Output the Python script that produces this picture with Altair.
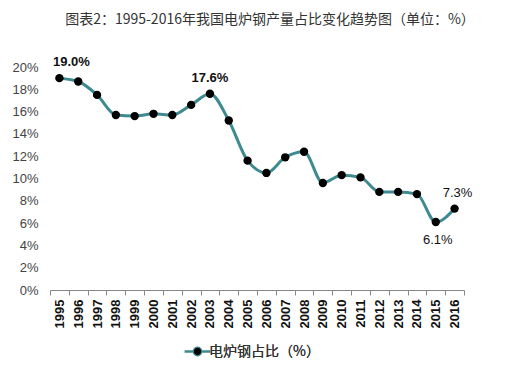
import altair as alt
import pandas as pd

years = [str(y) for y in range(1995, 2017)]
values = [19.0, 18.7, 17.5, 15.7, 15.6, 15.8, 15.7, 16.6, 17.6, 15.2, 11.6,
          10.5, 11.9, 12.4, 9.6, 10.3, 10.1, 8.8, 8.8, 8.6, 6.1, 7.3]
series_name = "电炉钢占比（%）"

label_years_above_bold = ["1995", "2003"]
label_years_above = ["2016"]
label_years_below = ["2015"]

df = pd.DataFrame({"year": years, "value": values, "series": series_name})
df["label"] = df["value"].map(lambda v: f"{v:.1f}%")

x = alt.X("year:N", title=None, sort=years,
          scale=alt.Scale(paddingInner=0, paddingOuter=0),
          axis=alt.Axis(labelAngle=270, labelFontWeight="bold", labelFontSize=13,
                        labelColor="#111", labelFont="Liberation Sans",
                        tickBand="extent", tickColor="#888", domainColor="#888",
                        tickSize=5, labelPadding=4, labelAlign="right",
                        labelBaseline="middle"))
y = alt.Y("value:Q", title=None,
          scale=alt.Scale(domain=[0, 20]),
          axis=alt.Axis(values=list(range(0, 21, 2)), labelExpr="datum.value + '%'",
                        grid=False, domain=False, ticks=False, labelPadding=12,
                        labelFontSize=13, labelColor="#444",
                        labelFont="Liberation Sans"))

legend = alt.Legend(title=None, orient="none", legendX=138, legendY=275,
                    symbolType="M-1.6,0H-0.45M0.45,0H1.6M-0.45,0A0.45,0.45,0,1,1,0.45,0A0.45,0.45,0,1,1,-0.45,0Z",
                    symbolSize=260, symbolStrokeWidth=2.5, labelOffset=2,
                    labelFontSize=14, labelColor="#333", labelFontWeight="normal",
                    labelFont="Noto Sans CJK SC")

base = alt.Chart(df)

line = base.mark_line(interpolate="monotone", strokeWidth=3).encode(
    x=x, y=y,
    stroke=alt.Stroke("series:N", scale=alt.Scale(range=["#3e8a91"]), legend=legend),
)
points = base.mark_point(filled=True, size=70, opacity=1).encode(
    x=x, y=y,
    fill=alt.Fill("series:N", scale=alt.Scale(range=["#000000"]), legend=legend),
)

txt_bold_first = base.transform_filter(
    alt.FieldOneOfPredicate(field="year", oneOf=label_years_above_bold[:1])
).mark_text(dy=-16, dx=12, fontWeight="bold", fontSize=13, font="Liberation Sans", color="#111").encode(
    x=x, y=y, text="label:N")
txt_bold = base.transform_filter(
    alt.FieldOneOfPredicate(field="year", oneOf=label_years_above_bold[1:])
).mark_text(dy=-16, fontWeight="bold", fontSize=13, font="Liberation Sans", color="#111").encode(
    x=x, y=y, text="label:N")
txt_above = base.transform_filter(
    alt.FieldOneOfPredicate(field="year", oneOf=label_years_above)
).mark_text(dy=-16, dx=3, fontSize=13, font="Liberation Sans", color="#111").encode(
    x=x, y=y, text="label:N")
txt_below = base.transform_filter(
    alt.FieldOneOfPredicate(field="year", oneOf=label_years_below)
).mark_text(dy=18, dx=2, fontSize=13, font="Liberation Sans", color="#111").encode(
    x=x, y=y, text="label:N")

chart = alt.layer(line, points, txt_bold_first, txt_bold, txt_above, txt_below).properties(
    width=414, height=223,
    background="white",
    autosize=alt.AutoSizeParams(type="none"),
    padding={"left": 42, "top": 59, "right": 36, "bottom": 77},
    title=alt.TitleParams("图表2：1995-2016年我国电炉钢产量占比变化趋势图（单位：%）",
                          fontSize=14, fontWeight="normal", color="#333",
                          font="Noto Sans CJK SC", anchor="middle", dx=13, offset=29),
).configure_view(stroke=None)

chart.save("out.html", embed_options={"renderer": "svg", "actions": False})
